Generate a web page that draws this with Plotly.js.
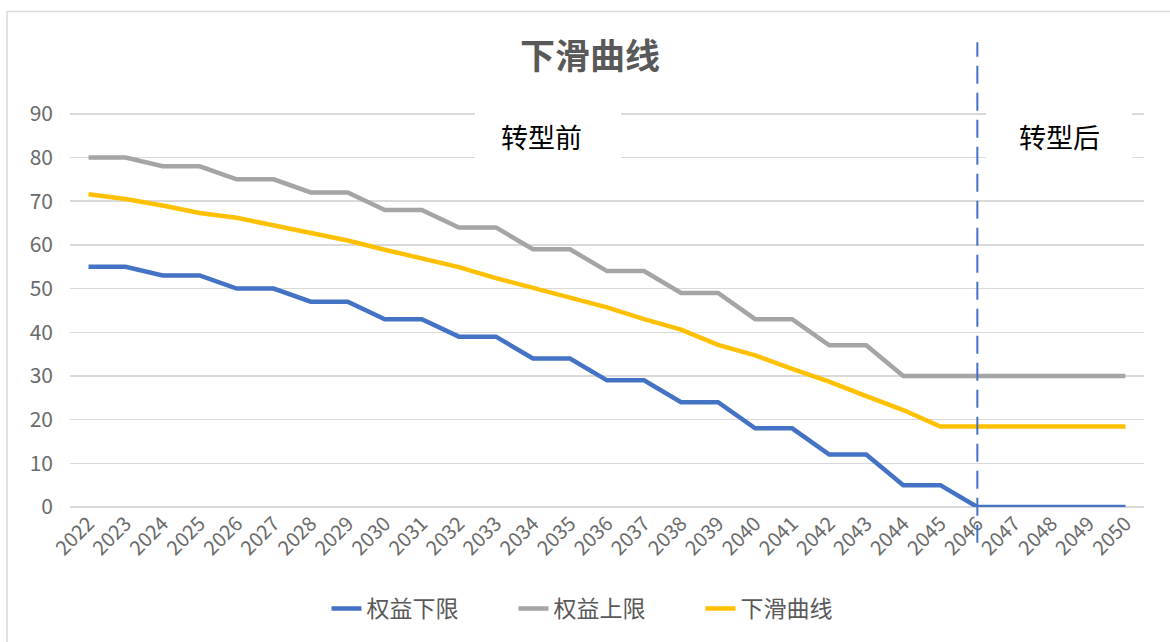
<!DOCTYPE html>
<html>
<head>
<meta charset="utf-8">
<script src="https://cdn.plot.ly/plotly-3.0.1.min.js"></script>
<style>html,body{margin:0;padding:0;background:#fff;}#chart{width:1170px;height:642px;}</style>
</head>
<body>
<div id="chart"></div>
<script>
const years = ['2022','2023','2024','2025','2026','2027','2028','2029','2030','2031','2032','2033','2034','2035','2036','2037','2038','2039','2040','2041','2042','2043','2044','2045','2046','2047','2048','2049','2050'];
const lowerBound = [55,55,53,53,50,50,47,47,43,43,39,39,34,34,29,29,24,24,18,18,12,12,5,5,0,0,0,0,0];
const upperBound = [80,80,78,78,75,75,72,72,68,68,64,64,59,59,54,54,49,49,43,43,37,37,30,30,30,30,30,30,30];
const glidePath = [71.6,70.5,69.0,67.3,66.2,64.4,62.7,61.0,58.9,56.8,54.9,52.4,50.1,47.9,45.7,43.0,40.6,37.1,34.7,31.6,28.7,25.4,22.2,18.4,18.4,18.4,18.4,18.4,18.4];
const seriesNames = ['权益下限','权益上限','下滑曲线'];
const transitionYear = '2046';
const labelBefore = '转型前';
const labelAfter = '转型后';
const chartTitle = '下滑曲线';

const FONT = '"Noto Sans CJK SC", "Noto Sans", sans-serif';
const colors = ['#4472C4','#A5A5A5','#FFC000'];
const vals = [lowerBound, upperBound, glidePath];

const traces = vals.map((v,i)=>({
  type:'scatter', mode:'lines', x:years, y:v, name:seriesNames[i],
  line:{color:colors[i], width:4.5}
}));

// plot area geometry (px): y=0 at 509px, y=90 at 114px; range padded to 95 so the top gridline is interior
const L=70, R=26, T=92, B=133, W=1170, H=642;
const pw=W-L-R, ph=H-T-B;
const px=(p)=> (p-L)/pw;
const py=(p)=> (H-B-p)/ph;
const tIdx = years.indexOf(transitionYear);

const layout = {
  width:W, height:H,
  margin:{l:L, r:R, t:T, b:B},
  paper_bgcolor:'#fff', plot_bgcolor:'#fff',
  font:{family:FONT, color:'#595959'},
  title:{text:'<b>'+chartTitle+'</b>', font:{size:35, color:'#595959', family:FONT}, x:590/W, xanchor:'center', y:1-57/H, yanchor:'middle'},
  showlegend:true,
  legend:{orientation:'h', x:px(607), xanchor:'center', y:py(611), yanchor:'middle', font:{size:23, color:'#595959', family:FONT}, entrywidth:142, entrywidthmode:'pixels'},
  xaxis:{type:'category', range:[-0.5, years.length-0.5], showgrid:false, zeroline:false, showline:false, ticks:'', tickangle:-45, tickfont:{size:20, color:'#6b6b6b', family:FONT}, fixedrange:true},
  yaxis:{range:[0,95], tickvals:[0,10,20,30,40,50,60,70,80,90], showgrid:true, gridcolor:'#D9D9D9', gridwidth:1.5, zeroline:true, zerolinecolor:'#D9D9D9', zerolinewidth:1.5, showline:false, ticks:'', ticklabelstandoff:16, tickfont:{size:21, color:'#6b6b6b', family:FONT}, fixedrange:true},
  shapes:[
    {type:'rect', xref:'paper', yref:'paper', x0:px(7), x1:px(1175), y0:py(648), y1:py(11), line:{color:'#D9D9D9', width:1.5}, fillcolor:'rgba(0,0,0,0)', layer:'below'},
    {type:'rect', xref:'paper', yref:'paper', x0:px(475), x1:px(621), y0:py(170), y1:py(104), line:{width:0}, fillcolor:'#fff', layer:'above'},
    {type:'rect', xref:'paper', yref:'paper', x0:px(986), x1:px(1132), y0:py(170), y1:py(104), line:{width:0}, fillcolor:'#fff', layer:'above'},
    {type:'line', xref:'x', yref:'paper', x0:tIdx, x1:tIdx, y0:py(545), y1:py(42), line:{color:'#4472C4', width:2, dash:'18px,9px'}}
  ],
  annotations:[
    {xref:'paper', yref:'paper', x:px(541), y:py(137), text:labelBefore, showarrow:false, font:{size:27, color:'#000', family:FONT}, xanchor:'center', yanchor:'middle'},
    {xref:'paper', yref:'paper', x:px(1059), y:py(137), text:labelAfter, showarrow:false, font:{size:27, color:'#000', family:FONT}, xanchor:'center', yanchor:'middle'}
  ]
};

Plotly.newPlot('chart', traces, layout, {displayModeBar:false, staticPlot:true});
</script>
</body>
</html>
